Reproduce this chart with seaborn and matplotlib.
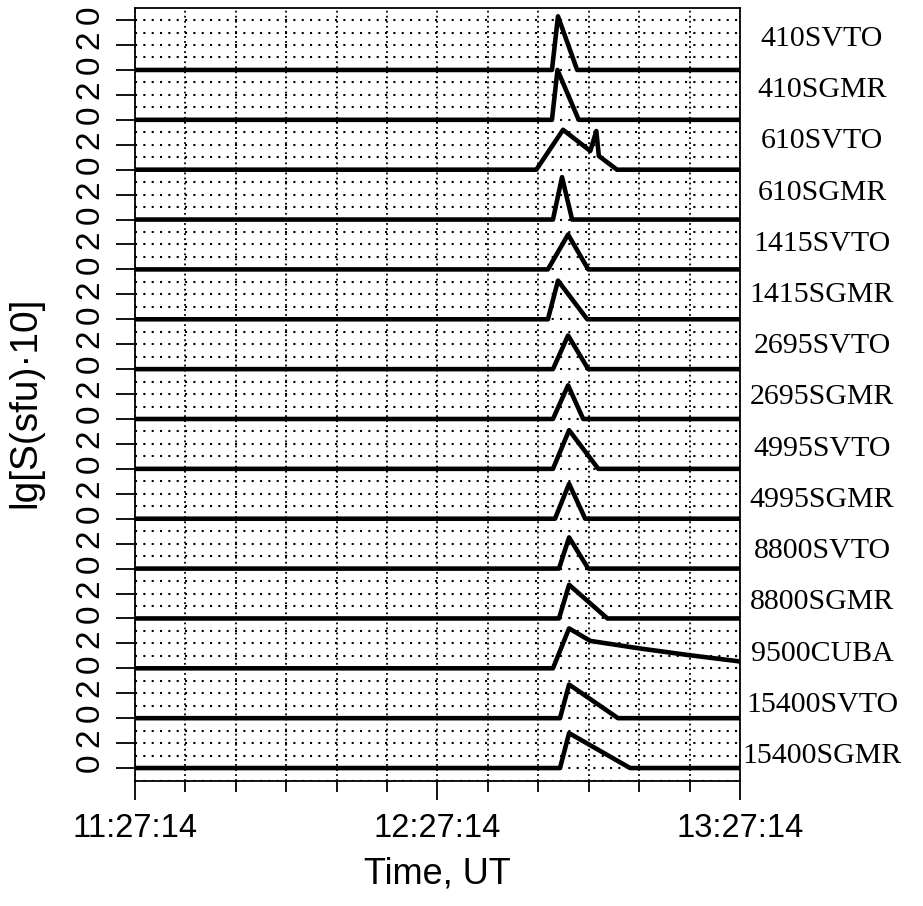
import numpy as np
import pandas as pd
import matplotlib
matplotlib.use("Agg")
import matplotlib.pyplot as plt
import matplotlib.transforms as mtransforms
import seaborn as sns
from matplotlib.ticker import MultipleLocator, FixedLocator, FuncFormatter

# ---------------- data (minutes after 11:27:14, lg-flux above quiet level) ----------------
START_H, START_M, START_S = 11, 27, 14
station_labels = ["410SVTO", "410SGMR", "610SVTO", "610SGMR", "1415SVTO", "1415SGMR",
                  "2695SVTO", "2695SGMR", "4995SVTO", "4995SGMR", "8800SVTO", "8800SGMR",
                  "9500CUBA", "15400SVTO", "15400SGMR"]

t_410SVTO = [0, 82.7, 83.9, 87.7, 120]
v_410SVTO = [0, 0, 4.3, 0, 0]
t_410SGMR = [0, 82.7, 83.8, 88.0, 120]
v_410SGMR = [0, 0, 4.0, 0, 0]
t_610SVTO = [0, 79.6, 84.9, 90.3, 91.5, 92.0, 95.6, 120]
v_610SVTO = [0, 0, 3.2, 1.5, 3.1, 1.1, 0, 0]
t_610SGMR = [0, 82.9, 84.7, 86.7, 120]
v_610SGMR = [0, 0, 3.4, 0, 0]
t_1415SVTO = [0, 81.9, 85.9, 89.9, 120]
v_1415SVTO = [0, 0, 2.8, 0, 0]
t_1415SGMR = [0, 81.9, 83.9, 89.7, 120]
v_1415SGMR = [0, 0, 3.1, 0, 0]
t_2695SVTO = [0, 82.9, 85.9, 89.9, 120]
v_2695SVTO = [0, 0, 2.7, 0, 0]
t_2695SGMR = [0, 82.9, 85.9, 88.9, 120]
v_2695SGMR = [0, 0, 2.7, 0, 0]
t_4995SVTO = [0, 82.9, 86.1, 91.9, 120]
v_4995SVTO = [0, 0, 3.1, 0, 0]
t_4995SGMR = [0, 83.3, 86.1, 89.3, 120]
v_4995SGMR = [0, 0, 2.8, 0, 0]
t_8800SVTO = [0, 84.1, 86.1, 89.9, 120]
v_8800SVTO = [0, 0, 2.5, 0, 0]
t_8800SGMR = [0, 84.1, 86.1, 93.7, 120]
v_8800SGMR = [0, 0, 2.7, 0, 0]
t_9500CUBA = [0, 82.9, 86.1, 90.3, 100, 110, 120]
v_9500CUBA = [0, 0, 3.2, 2.2, 1.6, 1.05, 0.55]
t_15400SVTO = [0, 84.3, 86.1, 95.8, 120]
v_15400SVTO = [0, 0, 2.7, 0, 0]
t_15400SGMR = [0, 84.3, 86.1, 98.2, 120]
v_15400SGMR = [0, 0, 2.8, 0, 0]

series = {
    "410SVTO": (t_410SVTO, v_410SVTO), "410SGMR": (t_410SGMR, v_410SGMR),
    "610SVTO": (t_610SVTO, v_610SVTO), "610SGMR": (t_610SGMR, v_610SGMR),
    "1415SVTO": (t_1415SVTO, v_1415SVTO), "1415SGMR": (t_1415SGMR, v_1415SGMR),
    "2695SVTO": (t_2695SVTO, v_2695SVTO), "2695SGMR": (t_2695SGMR, v_2695SGMR),
    "4995SVTO": (t_4995SVTO, v_4995SVTO), "4995SGMR": (t_4995SGMR, v_4995SGMR),
    "8800SVTO": (t_8800SVTO, v_8800SVTO), "8800SGMR": (t_8800SGMR, v_8800SGMR),
    "9500CUBA": (t_9500CUBA, v_9500CUBA), "15400SVTO": (t_15400SVTO, v_15400SVTO),
    "15400SGMR": (t_15400SGMR, v_15400SGMR),
}

# ---------------- build table (stack each record 4 units above the next) ----------------
STEP = 4
n = len(station_labels)
rows = []
for i, name in enumerate(station_labels):
    t, v = series[name]
    off = STEP * (n - 1 - i)
    for tt, vv in zip(t, v):
        rows.append({"station": name, "minute": tt, "y": vv + off})
df = pd.DataFrame(rows)

# ---------------- style ----------------
sns.set_style("ticks")
plt.rcParams["font.family"] = ["Liberation Sans", "DejaVu Sans"]
plt.rcParams.update({"text.color": "black", "axes.labelcolor": "black",
                     "xtick.color": "black", "ytick.color": "black",
                     "axes.edgecolor": "black"})

fig = plt.figure(figsize=(9.23, 9.06), dpi=100)
ax = fig.add_axes([135 / 923, 1 - 781 / 906, 605 / 923, 773 / 906])

sns.lineplot(data=df, x="minute", y="y", units="station", estimator=None, sort=False,
             color="black", linewidth=3.3, ax=ax, legend=False)

ax.set_xlim(0, 120)
ax.set_ylim(-1.04, 60.97)

# x axis
ax.xaxis.set_major_locator(FixedLocator([0, 60, 120]))
ax.xaxis.set_minor_locator(MultipleLocator(10))


def fmt_time(x, pos=None):
    total = START_H * 3600 + START_M * 60 + START_S + int(round(x * 60))
    return "%02d:%02d:%02d" % (total // 3600, (total % 3600) // 60, total % 60)


ax.xaxis.set_major_formatter(FuncFormatter(fmt_time))
ax.tick_params(axis="x", which="major", direction="out", length=14, width=1.3,
               labelsize=23.5, pad=9, colors="black")
ax.tick_params(axis="x", which="minor", direction="out", length=8, width=1.3, colors="black")

# y axis
yt = np.arange(0, 61, 2)
ax.yaxis.set_major_locator(FixedLocator(yt))
ax.yaxis.set_major_formatter(FuncFormatter(lambda v, p: "%d" % (int(round(v)) % 4)))
ax.yaxis.set_minor_locator(MultipleLocator(1))
ax.tick_params(axis="y", which="major", direction="out", length=14, width=1.3,
               labelsize=24, pad=7, labelrotation=90, colors="black")
ax.tick_params(axis="y", which="minor", length=0)

# dotted grid
ax.set_axisbelow(True)
ax.grid(True, which="both", axis="y", color="black", linewidth=1.5, linestyle=(0, (1, 3)))
ax.grid(True, which="both", axis="x", color="black", linewidth=1.3, linestyle=(0, (1, 1.8)))

for s in ax.spines.values():
    s.set_visible(True)
    s.set_color("black")
    s.set_linewidth(1.3)

ax.set_xlabel("Time, UT", fontsize=26, color="black")
ax.set_ylabel("lg[S(sfu)\u00b710]", fontsize=28, color="black")
ax.xaxis.set_label_coords(0.5, -0.098)
ax.yaxis.set_label_coords(-0.152, 0.49)

# y tick labels sit slightly above their ticks in the original
shift = mtransforms.ScaledTranslation(0, 5 / 100, fig.dpi_scale_trans)
for tk in ax.yaxis.get_major_ticks():
    tk.label1.set_va("center")
    tk.label1.set_transform(tk.label1.get_transform() + shift)

# station names on the right
ys_px = np.linspace(39, 756, n)
for name, ypx in zip(station_labels, ys_px):
    ax.text((822 - 135) / 605, (781 - ypx) / 773, name, transform=ax.transAxes,
            ha="center", va="center", fontsize=21.5, family="Liberation Serif",
            color="black", clip_on=False)

fig.savefig("out.png", dpi=100)
